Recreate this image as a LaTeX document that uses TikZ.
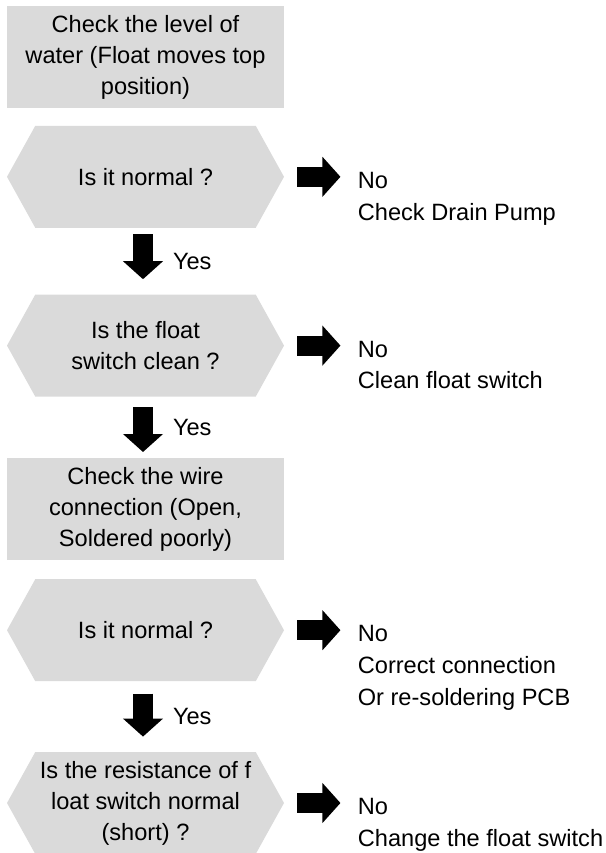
\documentclass[tikz,border=0pt]{standalone}
\usepackage{fontspec}
\setmainfont{Liberation Sans}
\usetikzlibrary{positioning,arrows.meta,shapes.symbols}
\definecolor{qfill}{HTML}{DADADA}
\tikzset{
  q/.style   = {fill=qfill, draw=none, minimum width=138.5pt, minimum height=51pt,
                inner sep=0pt, align=center, font=\fontsize{11.8}{15.5}\selectfont},
  qh/.style  = {q, shape=signal, signal to=west and east, signal pointer angle=122},
  no/.style  = {align=left, inner sep=0pt, anchor=north west,
                font=\fontsize{11.8}{15.8}\selectfont},
  yes/.style = {inner sep=0pt, font=\fontsize{11.8}{15.5}\selectfont},
  a/.style   = {-{Triangle[length=9pt,width=19.5pt]}, line width=10pt, draw=black},
}

\begin{document}
\begin{tikzpicture}
\useasboundingbox (0,0) rectangle (303pt,-426.5pt);

\node[q] (chk1) at (72.75pt,-28.5pt) {Check the level of\\water (Float moves top\\position)};
\node[qh, below=8.5pt of chk1] (ask1) {Is it normal ?};
\node[qh, below=33pt of ask1]  (ask2) {Is the float\\switch clean ?};
\node[q,  below=30.5pt of ask2] (chk2) {Check the wire\\connection (Open,\\Soldered poorly)};
\node[qh, below=9pt of chk2]   (ask3) {Is it normal ?};
\node[qh, below=35pt of ask3]  (ask4) {Is the resistance of f\\loat switch normal\\(short) ?};

% "No" answers to the right of each question
\foreach \i/\t in {1/{No\\Check Drain Pump}, 2/{No\\Clean float switch},
                   3/{No\\Correct connection\\Or re-soldering PCB}, 4/{No\\Change the float switch}} {
  \node[no, right=36.5pt of ask\i.east, anchor=north west, yshift=2.5pt] (no\i) {\t};
  \draw[a, shorten <=6.5pt, shorten >=8.5pt] (ask\i.east) -- (ask\i.east -| no\i.west);
}

% "Yes" goes down
\draw[a, shorten <=3pt, shorten >=7.5pt] ([xshift=-1.25pt]ask1.south) --
  node[yes, right=10pt] (yes1) {Yes} ([xshift=-1.25pt]ask2.north);
\draw[a, shorten <=5pt, shorten >=3pt] ([xshift=-1.25pt]ask2.south) --
  node[yes, right=10pt] (yes2) {Yes} ([xshift=-1.25pt]chk2.north);
\draw[a, shorten <=6pt, shorten >=7.5pt] ([xshift=-1.25pt]ask3.south) --
  node[yes, right=10pt] (yes3) {Yes} ([xshift=-1.25pt]ask4.north);

\end{tikzpicture}
\end{document}
